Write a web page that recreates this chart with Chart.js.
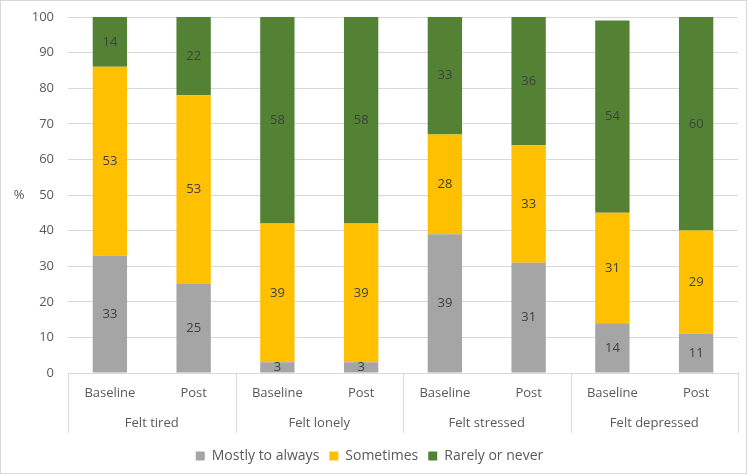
<!DOCTYPE html>
<html>
<head>
<meta charset="utf-8">
<script src="https://cdn.jsdelivr.net/npm/chart.js@4.4.1/dist/chart.umd.min.js"></script>
<style>
  html, body { margin:0; padding:0; background:#fff; }
  #wrap { position:relative; width:745px; height:472px; border:1px solid #d9d9d9; }
</style>
</head>
<body>
<div id="wrap"><canvas id="c" width="745" height="472"></canvas></div>
<script>
(function () {
    'use strict';

    /* ── Datos ─────────────────────────────────────────── */
    var subLabels   = ['Baseline','Post','Baseline','Post','Baseline','Post','Baseline','Post'];
    var groupLabels = ['Felt tired','Felt lonely','Felt stressed','Felt depressed'];
    var mostly      = [33, 25, 3, 3, 39, 31, 14, 11];
    var sometimes   = [53, 53, 39, 39, 28, 33, 31, 29];
    var rarely      = [14, 22, 58, 58, 33, 36, 54, 60];
    var yTicks      = [0,10,20,30,40,50,60,70,80,90,100];

    var FONT = '"Open Sans", "Noto Sans", sans-serif';
    var TXT  = '#595959';
    var GRID = '#d9d9d9';
    var SEP_H = 30;   /* alto de la banda de grupos con separadores */

    Chart.defaults.font.family = FONT;
    Chart.defaults.font.size   = 13;
    Chart.defaults.color       = TXT;
    Chart.defaults.animation   = false;

    /* valores dentro de las barras */
    var barValues = {
        id:'barValues',
        afterDatasetsDraw:function(chart){
            var c=chart.ctx;
            c.save();
            c.font='13px '+FONT;
            c.fillStyle='#404040';
            c.textAlign='center';
            c.textBaseline='middle';
            chart.data.datasets.forEach(function(ds,i){
                var meta=chart.getDatasetMeta(i);
                meta.data.forEach(function(bar,j){
                    c.fillText(String(ds.data[j]), bar.x, (bar.y+bar.base)/2);
                });
            });
            c.restore();
        }
    };

    /* separadores del eje de grupos + título "%" */
    var groupAxis = {
        id:'groupAxis',
        afterDraw:function(chart){
            var c=chart.ctx, x=chart.scales.x, x2=chart.scales.x2, a=chart.chartArea;
            var w=x.getPixelForValue(1)-x.getPixelForValue(0);
            c.save();
            c.strokeStyle=GRID; c.lineWidth=1;
            for(var g=0; g<=groupLabels.length; g++){
                var px=Math.round(x.getPixelForValue(g*2)-w/2)+0.5;
                c.beginPath(); c.moveTo(px,a.bottom); c.lineTo(px,x2.top+SEP_H); c.stroke();
            }
            c.font='13px '+FONT;
            c.fillStyle=TXT;
            c.textAlign='center';
            c.textBaseline='middle';
            c.fillText('%', 18, (a.top+a.bottom)/2);
            c.restore();
        }
    };

    new Chart(document.getElementById('c').getContext('2d'), {
        type:'bar',
        data:{labels:subLabels,datasets:[
            {label:'Mostly to always', data:mostly,    backgroundColor:'#A5A5A5'},
            {label:'Sometimes',        data:sometimes, backgroundColor:'#FFC000'},
            {label:'Rarely or never',  data:rarely,    backgroundColor:'#548235'}
        ]},
        options:{
            responsive:false,
            layout:{padding:{left:0,right:8,top:16,bottom:0}},
            datasets:{bar:{categoryPercentage:1,barPercentage:0.41}},
            plugins:{
                legend:{position:'bottom',labels:{boxWidth:9,boxHeight:9,padding:10,color:TXT,font:{size:14}}},
                tooltip:{enabled:false}
            },
            scales:{
                x:{stacked:true,
                   grid:{display:false,drawTicks:false}, border:{display:false},
                   ticks:{padding:12,maxRotation:0,autoSkip:false},
                   afterFit:function(s){s.height=30;}},
                x2:{type:'category', labels:groupLabels, position:'bottom', offset:true,
                   grid:{display:false,drawTicks:false}, border:{display:false},
                   ticks:{padding:12,maxRotation:0},
                   afterFit:function(s){s.height=SEP_H+6;}},
                y:{stacked:true, min:0, max:100,
                   afterBuildTicks:function(s){s.ticks=yTicks.map(function(v){return {value:v};});},
                   grid:{color:GRID,drawTicks:false}, border:{display:false},
                   ticks:{padding:14},
                   afterFit:function(s){s.width=67; s.paddingTop=0; s.paddingBottom=0;}}
            }
        },
        plugins:[barValues,groupAxis]
    });
})();
</script>
</body>
</html>
